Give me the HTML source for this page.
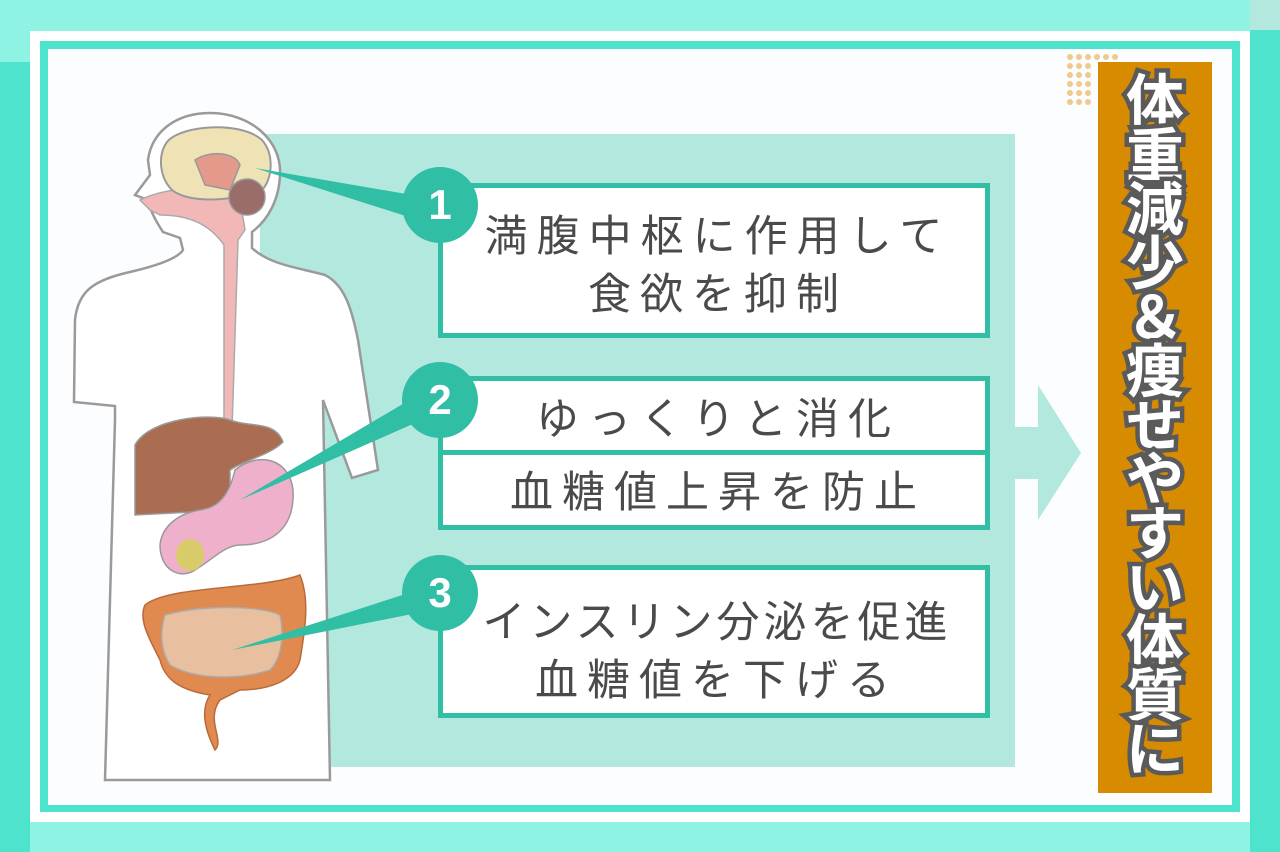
<!DOCTYPE html>
<html><head><meta charset="utf-8"><style>
html,body{margin:0;padding:0}
body{width:1280px;height:852px;position:relative;overflow:hidden;background:#8ef3e3;font-family:"Liberation Sans","Noto Sans CJK JP",sans-serif}
.a{position:absolute}
.box{position:absolute;background:#fff;border:5px solid #30bea5;box-sizing:border-box;color:#4a4a4a;font-size:43px;letter-spacing:9px;text-align:center;line-height:58px}
.num{position:absolute;width:76px;height:76px;border-radius:50%;background:#30bea5;color:#fff;font-weight:bold;font-size:42px;text-align:center;line-height:76px}
.v{position:absolute;left:1098px;top:62px;width:114px;height:731px;background:#d68b00}
.vt{position:absolute;left:0;top:14px;width:114px;text-align:center;font-weight:bold;font-size:58px;line-height:54px;color:#fff;-webkit-text-stroke:9px #5a5a5a;paint-order:stroke fill}
</style></head><body>
<div class="a" style="left:0;top:62px;width:30px;height:790px;background:#4de3cd"></div>
<div class="a" style="left:1250px;top:30px;width:30px;height:822px;background:#4de3cd"></div>
<div class="a" style="left:1250px;top:0;width:30px;height:30px;background:#b3e8df"></div>
<div class="a" style="left:30px;top:31px;width:1220px;height:791px;background:#fff"></div>
<div class="a" style="left:40px;top:41px;width:1200px;height:771px;background:#4de3cd"></div>
<div class="a" style="left:48px;top:49px;width:1184px;height:756px;background:#fcfdff"></div>
<div class="a" style="left:260px;top:134px;width:755px;height:633px;background:#b3e8df"></div>
<svg class="a" style="left:0;top:0" width="1280" height="852">
<polygon points="1015,427 1038,427 1038,385 1081,453 1038,520 1038,479 1015,479" fill="#b3e8df"/>
<path d="M210,113 C250,113 282,140 280,175 C279,200 268,220 252,232 L252,248 C270,265 300,268 325,275 C345,285 352,310 358,340 L378,470 L352,478 L323,400 L330,780 L105,780 L115,420 L115,406 L74,402 L75,320 C78,290 95,280 130,272 C160,265 178,258 183,250 L180,238 L163,232 C155,220 150,210 148,200 L135,195 L150,175 L148,160 C152,130 178,113 210,113 Z" fill="#fff" stroke="#9a9a9a" stroke-width="2.5"/>
<path d="M140,200 C170,185 220,185 240,200 L245,230 L238,240 L232,430 L224,430 L224,245 C210,225 190,215 160,215 L150,210 Z" fill="#f2b8b8" stroke="#aaa" stroke-width="1.5"/>
<path d="M165,145 C175,125 240,120 262,140 C275,155 272,180 262,190 C240,200 190,205 172,190 C160,178 158,158 165,145Z" fill="#efe3b5" stroke="#999" stroke-width="2"/>
<path d="M195,160 C210,150 235,152 240,165 L230,190 L205,185Z" fill="#e49a8a" stroke="#999" stroke-width="1.5"/>
<ellipse cx="247" cy="197" rx="18" ry="18" fill="#9a6c6a" stroke="#999" stroke-width="1.5"/>
<path d="M135,445 C150,418 210,413 230,420 C250,428 275,420 283,442 C270,455 245,460 230,470 L230,510 L135,515 Z" fill="#ab6d52" stroke="#999" stroke-width="1.5"/>
<path d="M235,470 C260,450 290,460 293,490 C295,530 270,545 240,545 C225,545 212,560 195,570 C180,580 160,570 160,545 C162,525 180,513 200,510 C215,508 228,500 235,470Z" fill="#efb0cc" stroke="#999" stroke-width="1.5"/>
<ellipse cx="190" cy="555" rx="14" ry="16" fill="#d8cc6a"/>
<path d="M145,605 C170,585 260,590 300,575 C310,600 305,630 300,660 C295,680 270,690 240,690 L220,700 C205,720 225,740 215,750 C205,730 200,710 210,695 C180,690 165,680 160,660 C150,640 138,620 145,605Z" fill="#e18a4f" stroke="#b86a3a" stroke-width="1.5"/>
<path d="M165,615 C200,605 260,605 280,615 C285,640 280,660 270,670 C240,680 195,680 170,665 C160,650 160,630 165,615Z" fill="#e8c0a0" stroke="#aaa" stroke-width="1.5"/>
<polygon points="255,168 418,196 412,218" fill="#30bea5"/>
<polygon points="240,500 418,395 422,420" fill="#30bea5"/>
<polygon points="232,650 418,590 422,612" fill="#30bea5"/>
<g fill="#f0c98c"><circle cx="1070" cy="57" r="3"/><circle cx="1079" cy="57" r="3"/><circle cx="1088" cy="57" r="3"/><circle cx="1097" cy="57" r="3"/><circle cx="1106" cy="57" r="3"/><circle cx="1115" cy="57" r="3"/>
<circle cx="1070" cy="66" r="3"/><circle cx="1079" cy="66" r="3"/><circle cx="1088" cy="66" r="3"/><circle cx="1070" cy="75" r="3"/><circle cx="1079" cy="75" r="3"/><circle cx="1088" cy="75" r="3"/><circle cx="1070" cy="84" r="3"/><circle cx="1079" cy="84" r="3"/><circle cx="1088" cy="84" r="3"/><circle cx="1070" cy="93" r="3"/><circle cx="1079" cy="93" r="3"/><circle cx="1088" cy="93" r="3"/><circle cx="1070" cy="102" r="3"/><circle cx="1079" cy="102" r="3"/><circle cx="1088" cy="102" r="3"/></g>
</svg>
<div class="box" style="left:438px;top:183px;width:552px;height:155px;padding-top:20px;padding-left:8px">満腹中枢に作用して<br>食欲を抑制</div>
<div class="box" style="left:438px;top:376px;width:552px;height:154px;padding-top:10px;padding-left:8px">ゆっくりと消化</div>
<div class="a" style="left:438px;top:450px;width:552px;height:5px;background:#30bea5"></div>
<div class="a" style="left:451px;top:455px;width:534px;height:70px;color:#4a4a4a;font-size:43px;letter-spacing:9px;text-align:center;line-height:76px">血糖値上昇を防止</div>
<div class="box" style="left:438px;top:565px;width:552px;height:153px;padding-top:24px;padding-left:6px"><span style="letter-spacing:4px">インスリン分泌を促進</span><br>血糖値を下げる</div>
<div class="num" style="left:402px;top:167px">1</div>
<div class="num" style="left:402px;top:362px">2</div>
<div class="num" style="left:402px;top:555px">3</div>
<div class="v"><div class="vt">体<br>重<br>減<br>少<br>＆<br>痩<br>せ<br>や<br>す<br>い<br>体<br>質<br>に</div></div>
</body></html>
